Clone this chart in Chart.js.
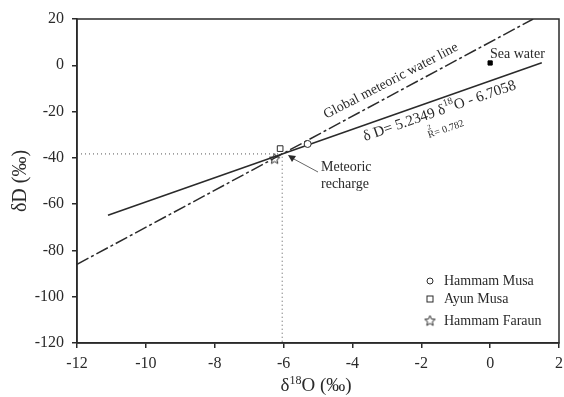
<!DOCTYPE html>
<html>
<head>
<meta charset="utf-8">
<script src="https://cdn.jsdelivr.net/npm/chart.js@4/dist/chart.umd.min.js"></script>
<style>
  html, body { margin: 0; padding: 0; background: #fff; }
  canvas { display: block; }
</style>
</head>
<body>
<canvas id="isoChart" width="564" height="397"></canvas>
<script>
// du lieu doc tu hinh
const xTicks = [-12, -10, -8, -6, -4, -2, 0, 2];
const yTicks = [-120, -100, -80, -60, -40, -20, 0, 20];

// duong nuoc khi tuong toan cau (GMWL)
const gmwlLine = [{ x: -12, y: -86 }, { x: 1.25, y: 20 }];
// duong hoi quy
const regLine = [{ x: -11.1, y: -64.8 }, { x: 1.5, y: 1.1 }];
// duong cham giao diem
const crossLine = [{ x: -12, y: -38.3 }, { x: -6.04, y: -38.3 }, { x: -6.04, y: -120 }];

const hammamMusa = [{ x: -5.3, y: -34 }];
const ayunMusa = [{ x: -6.1, y: -36 }];
const hammamFaraun = [{ x: -6.26, y: -40.5 }];
const seaWater = [{ x: 0, y: 1 }];

const ink = '#2a2a2a';
const serif = '"Liberation Serif", "DejaVu Serif", serif';

// ngoi sao 5 canh (Chart.js 'star' la dau sao 8 tia)
function makeStar(size, r) {
    const c = document.createElement('canvas');
    c.width = size; c.height = size;
    const g = c.getContext('2d');
    g.strokeStyle = ink;
    g.lineWidth = 1;
    g.beginPath();
    for (let i = 0; i < 10; i++) {
        const rr = i % 2 === 0 ? r : r * 0.45;
        const a = -Math.PI / 2 + i * Math.PI / 5;
        const px = size / 2 + rr * Math.cos(a);
        const py = size / 2 + rr * Math.sin(a);
        if (i === 0) g.moveTo(px, py); else g.lineTo(px, py);
    }
    g.closePath();
    g.stroke();
    return c;
}
const starImg = makeStar(13, 5.5);

// ve khung, chu thich, tieu de truc
const decorPlugin = {
    id: 'decor',
    afterDraw(chart) {
        const { ctx, chartArea: a } = chart;
        ctx.save();

        // khung
        ctx.strokeStyle = ink;
        ctx.lineWidth = 1.5;
        ctx.strokeRect(a.left, a.top, a.right - a.left, a.bottom - a.top);

        ctx.fillStyle = ink;

        // nhan GMWL
        ctx.save();
        ctx.translate(391, 81);
        ctx.rotate(-27.5 * Math.PI / 180);
        ctx.font = '14px ' + serif;
        ctx.textAlign = 'center';
        ctx.textBaseline = 'middle';
        ctx.fillText('Global meteoric water line', 0, 0);
        ctx.restore();

        // phuong trinh hoi quy
        ctx.save();
        ctx.translate(365, 141);
        ctx.rotate(-19 * Math.PI / 180);
        ctx.textBaseline = 'alphabetic';
        ctx.textAlign = 'left';
        let cx = 0;
        const parts = [['δ D= 5.2349 δ', 0, 15], ['18', -7, 10], ['O - 6.7058', 0, 15]];
        parts.forEach(p => {
            ctx.font = p[2] + 'px ' + serif;
            ctx.fillText(p[0], cx, p[1]);
            cx += ctx.measureText(p[0]).width;
        });
        ctx.restore();

        ctx.save();
        ctx.translate(429, 138);
        ctx.rotate(-19 * Math.PI / 180);
        ctx.font = '10px ' + serif;
        ctx.fillText('R', 0, 0);
        ctx.font = '7px ' + serif;
        ctx.fillText('2', 2, -8);
        ctx.font = '10px ' + serif;
        ctx.fillText('= 0.782', 7, 0);
        ctx.restore();

        // nuoc bien
        ctx.font = '14px ' + serif;
        ctx.textAlign = 'left';
        ctx.textBaseline = 'alphabetic';
        ctx.fillText('Sea water', 490, 58);

        // nap nuoc khi tuong
        ctx.fillText('Meteoric', 321, 171);
        ctx.fillText('recharge', 321, 188);
        ctx.strokeStyle = '#666';
        ctx.lineWidth = 1;
        ctx.beginPath();
        ctx.moveTo(318, 172);
        ctx.lineTo(292, 158);
        ctx.stroke();
        ctx.fillStyle = ink;
        ctx.beginPath();
        ctx.moveTo(288, 155);
        ctx.lineTo(296, 156);
        ctx.lineTo(292, 162);
        ctx.closePath();
        ctx.fill();

        // chu giai
        const lx = 430;
        const rows = [['Hammam Musa', 281, 'circle'], ['Ayun Musa', 299, 'rect'], ['Hammam Faraun', 321, 'star']];
        ctx.font = '14px ' + serif;
        ctx.textBaseline = 'middle';
        rows.forEach(r => {
            ctx.fillStyle = ink;
            ctx.fillText(r[0], lx + 14, r[1]);
            ctx.strokeStyle = ink;
            ctx.lineWidth = 1;
            if (r[2] === 'circle') {
                ctx.beginPath();
                ctx.arc(lx, r[1], 3, 0, Math.PI * 2);
                ctx.stroke();
            } else if (r[2] === 'rect') {
                ctx.strokeRect(lx - 3, r[1] - 3, 6, 6);
            } else {
                ctx.drawImage(starImg, lx - 6.5, r[1] - 6.5);
            }
        });

        // tieu de truc y
        ctx.save();
        ctx.translate(21, 181);
        ctx.rotate(-Math.PI / 2);
        ctx.font = '20px ' + serif;
        ctx.textAlign = 'center';
        ctx.textBaseline = 'middle';
        ctx.fillStyle = ink;
        ctx.fillText('δD (‰)', 0, 0);
        ctx.restore();

        // tieu de truc x voi chi so tren
        ctx.font = '19px ' + serif;
        ctx.textBaseline = 'alphabetic';
        ctx.textAlign = 'left';
        ctx.fillStyle = ink;
        const w1 = ctx.measureText('δ').width;
        ctx.font = '12px ' + serif;
        const w2 = ctx.measureText('18').width;
        ctx.font = '19px ' + serif;
        const w3 = ctx.measureText('O (‰)').width;
        let sx = 316 - (w1 + w2 + w3) / 2;
        const by = 391;
        ctx.fillText('δ', sx, by);
        ctx.font = '12px ' + serif;
        ctx.fillText('18', sx + w1, by - 7);
        ctx.font = '19px ' + serif;
        ctx.fillText('O (‰)', sx + w1 + w2, by);

        ctx.restore();
    }
};

const ctx = document.getElementById('isoChart').getContext('2d');
const isoChart = new Chart(ctx, {
    type: 'scatter',
    data: {
        datasets: [
            {
                label: 'GMWL',
                data: gmwlLine,
                showLine: true,
                borderColor: ink,
                borderWidth: 1.5,
                borderDash: [13, 3, 3, 3],
                pointRadius: 0,
                order: 5
            },
            {
                label: 'Regression',
                data: regLine,
                showLine: true,
                borderColor: ink,
                borderWidth: 1.5,
                pointRadius: 0,
                order: 4
            },
            {
                label: 'Cross',
                data: crossLine,
                showLine: true,
                borderColor: '#555',
                borderWidth: 1,
                borderDash: [1, 3],
                pointRadius: 0,
                order: 6
            },
            {
                label: 'Hammam Musa',
                data: hammamMusa,
                pointStyle: 'circle',
                pointRadius: 3.5,
                borderColor: ink,
                borderWidth: 1,
                backgroundColor: '#fff',
                order: 1
            },
            {
                label: 'Ayun Musa',
                data: ayunMusa,
                pointStyle: 'rect',
                pointRadius: 4,
                borderColor: ink,
                borderWidth: 1,
                backgroundColor: '#fff',
                order: 1
            },
            {
                label: 'Hammam Faraun',
                data: hammamFaraun,
                pointStyle: starImg,
                order: 1
            },
            {
                label: 'Sea water',
                data: seaWater,
                pointStyle: 'rect',
                pointRadius: 3,
                borderColor: '#000',
                backgroundColor: '#000',
                order: 1
            }
        ]
    },
    options: {
        responsive: false,
        animation: false,
        layout: { padding: { top: 19, right: 3, left: 0, bottom: 0 } },
        plugins: {
            legend: { display: false },
            tooltip: { enabled: false }
        },
        scales: {
            x: {
                type: 'linear',
                min: -12,
                max: 2,
                afterBuildTicks: s => { s.ticks = xTicks.map(v => ({ value: v })); },
                afterFit: s => { s.height = 54; s.paddingLeft = 0; s.paddingRight = 0; },
                grid: { drawOnChartArea: false, drawTicks: true, tickLength: 5, color: ink, lineWidth: 1.5 },
                border: { display: true, color: ink, width: 1.5 },
                ticks: { color: ink, font: { family: serif, size: 16 }, padding: 6 }
            },
            y: {
                type: 'linear',
                min: -120,
                max: 20,
                afterBuildTicks: s => { s.ticks = yTicks.map(v => ({ value: v })); },
                afterFit: s => { s.width = 77; s.paddingTop = 0; s.paddingBottom = 0; },
                grid: { drawOnChartArea: false, drawTicks: true, tickLength: 5, color: ink, lineWidth: 1.5 },
                border: { display: true, color: ink, width: 1.5 },
                ticks: { color: ink, font: { family: serif, size: 16 }, padding: 8 }
            }
        }
    },
    plugins: [decorPlugin]
});
</script>
</body>
</html>
